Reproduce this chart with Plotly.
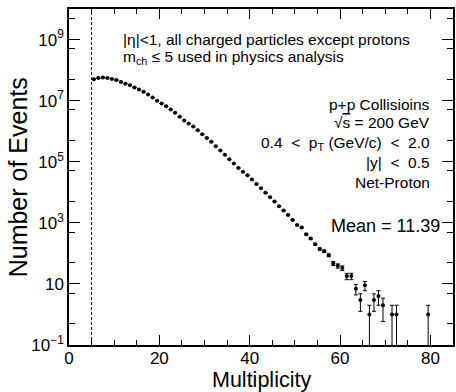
import numpy as np
import plotly.graph_objects as go

# Bin centres of the multiplicity histogram (non-empty bins)
multiplicity = [5.5, 6.5, 7.5, 8.5, 9.5, 10.5, 11.5, 12.5, 13.5, 14.5,
                15.5, 16.5, 17.5, 18.5, 19.5, 20.5, 21.5, 22.5, 23.5, 24.5,
                25.5, 26.5, 27.5, 28.5, 29.5, 30.5, 31.5, 32.5, 33.5, 34.5,
                35.5, 36.5, 37.5, 38.5, 39.5, 40.5, 41.5, 42.5, 43.5, 44.5,
                45.5, 46.5, 47.5, 48.5, 49.5, 50.5, 51.5, 52.5, 53.5, 54.5,
                55.5, 56.5, 57.5, 58.5, 59.5, 60.5, 61.5, 62.5, 63.5, 64.5,
                65.5, 66.5, 67.5, 68.5, 69.5, 71.5, 72.5, 79.5]
events = [5.0e7, 5.5e7, 5.75e7, 5.5e7, 5.1e7, 4.7e7, 4.1e7, 3.6e7, 3.2e7, 2.7e7,
          2.3e7, 1.95e7, 1.6e7, 1.26e7, 1.0e7, 8.1e6, 6.6e6, 5.1e6, 4.0e6, 2.95e6,
          2.25e6, 1.78e6, 1.41e6, 1.07e6, 7.9e5, 6.0e5, 4.5e5, 3.2e5, 2.35e5, 1.7e5,
          1.2e5, 8.7e4, 6.2e4, 4.7e4, 3.6e4, 2.6e4, 1.86e4, 1.35e4, 9.6e3, 6.9e3,
          5.0e3, 3.5e3, 2.55e3, 1.8e3, 1.23e3, 850, 700, 420, 305, 200,
          138, 118, 87, 47, 39, 33, 18, 18, 7, 3,
          9, 1, 3, 4, 2, 1, 1, 1]
event_err = np.sqrt(np.array(events, dtype=float))

cut_value = 5

# labelled decades, unlabelled decades, and half-decade (5x) ticks
y_label_vals = [1e-1, 10, 1e3, 1e5, 1e7, 1e9]
y_label_text = ["10<sup>\u22121</sup>", "10", "10<sup>3</sup>",
                "10<sup>5</sup>", "10<sup>7</sup>", "10<sup>9</sup>"]
y_plain_decades = [1, 1e2, 1e4, 1e6, 1e8]
y_minor_vals = [5e-1, 5, 50, 5e2, 5e3, 5e4, 5e5, 5e6, 5e7, 5e8, 5e9]

FONT = "Liberation Sans, Arial, Helvetica, sans-serif"

fig = go.Figure()
fig.add_trace(go.Scatter(
    x=multiplicity, y=events, mode="markers",
    marker=dict(color="black", size=4),
    error_y=dict(type="data", array=event_err, visible=True,
                 color="black", thickness=1, width=2),
    showlegend=False,
))

fig.add_shape(type="line", x0=cut_value, x1=cut_value, xref="x",
              y0=0, y1=1, yref="paper",
              line=dict(color="black", width=1, dash="3px,2px"))

ann = []
def add(text, x, y, size, xanchor="left", yanchor="middle", angle=0):
    ann.append(dict(text=text, x=x, y=y, xref="paper", yref="paper",
                    xanchor=xanchor, yanchor=yanchor, showarrow=False,
                    textangle=angle, font=dict(family=FONT, size=size, color="black")))

nb = "\u00a0"
add("|\u03b7|<1, all charged particles except protons", 0.1365, 0.9107, 15.5)
add("m<sub>ch</sub> \u2264 5 used in physics analysis", 0.1365, 0.857, 15.5)
add("p+p Collisioins", 0.9456, 0.717, 15.5, xanchor="right")
add("\u221a<span style='text-decoration:overline'>s</span> = 200 GeV", 0.9456, 0.661, 15.5, xanchor="right")
add(f"0.4{nb}{nb}<{nb}{nb}p<sub>T</sub> (GeV/c){nb}{nb}<{nb}{nb}2.0", 0.9456, 0.601, 15.5, xanchor="right")
add(f"|y|{nb}{nb}<{nb}{nb}0.5", 0.9456, 0.5417, 15.5, xanchor="right")
add("Net-Proton", 0.9456, 0.485, 15.5, xanchor="right")
add("Mean = 11.39", 0.9715, 0.354, 18, xanchor="right")
add("Multiplicity", 0.5, -0.104, 21.5, xanchor="center")
add("Number of Events", -0.132, 0.5, 25, xanchor="center", angle=-90)

fig.update_layout(
    width=456, height=392,
    margin=dict(l=69, r=1, t=9, b=47),
    paper_bgcolor="white", plot_bgcolor="white",
    font=dict(family=FONT, size=17, color="black"),
    annotations=ann,
    xaxis=dict(range=[0, 85], tickmode="linear", tick0=0, dtick=20,
               ticks="inside", ticklen=10, tickwidth=1, tickcolor="black",
               showline=True, linecolor="black", linewidth=1.5, mirror="allticks",
               showgrid=False, zeroline=False, ticklabelstandoff=-3,
               tickfont=dict(family=FONT, size=17),
               minor=dict(tick0=0, dtick=5, ticks="inside", ticklen=5,
                          tickwidth=1, tickcolor="black", showgrid=False)),
    yaxis=dict(type="log", range=[-1, 10], tickmode="array",
               tickvals=y_label_vals, ticktext=y_label_text,
               ticks="inside", ticklen=11, tickwidth=1, tickcolor="black",
               showline=True, linecolor="black", linewidth=1.5, mirror="allticks",
               showgrid=False, zeroline=False,
               tickfont=dict(family=FONT, size=17),
               minor=dict(tickmode="array", tickvals=y_minor_vals, ticks="inside",
                          ticklen=6, tickwidth=1, tickcolor="black", showgrid=False)),
    yaxis2=dict(type="log", range=[-1, 10], overlaying="y", side="left",
                tickmode="array", tickvals=y_plain_decades, showticklabels=False,
                ticks="inside", ticklen=11, tickwidth=1, tickcolor="black",
                showline=False, mirror="allticks", showgrid=False, zeroline=False),
)

fig.write_html("out.html")
